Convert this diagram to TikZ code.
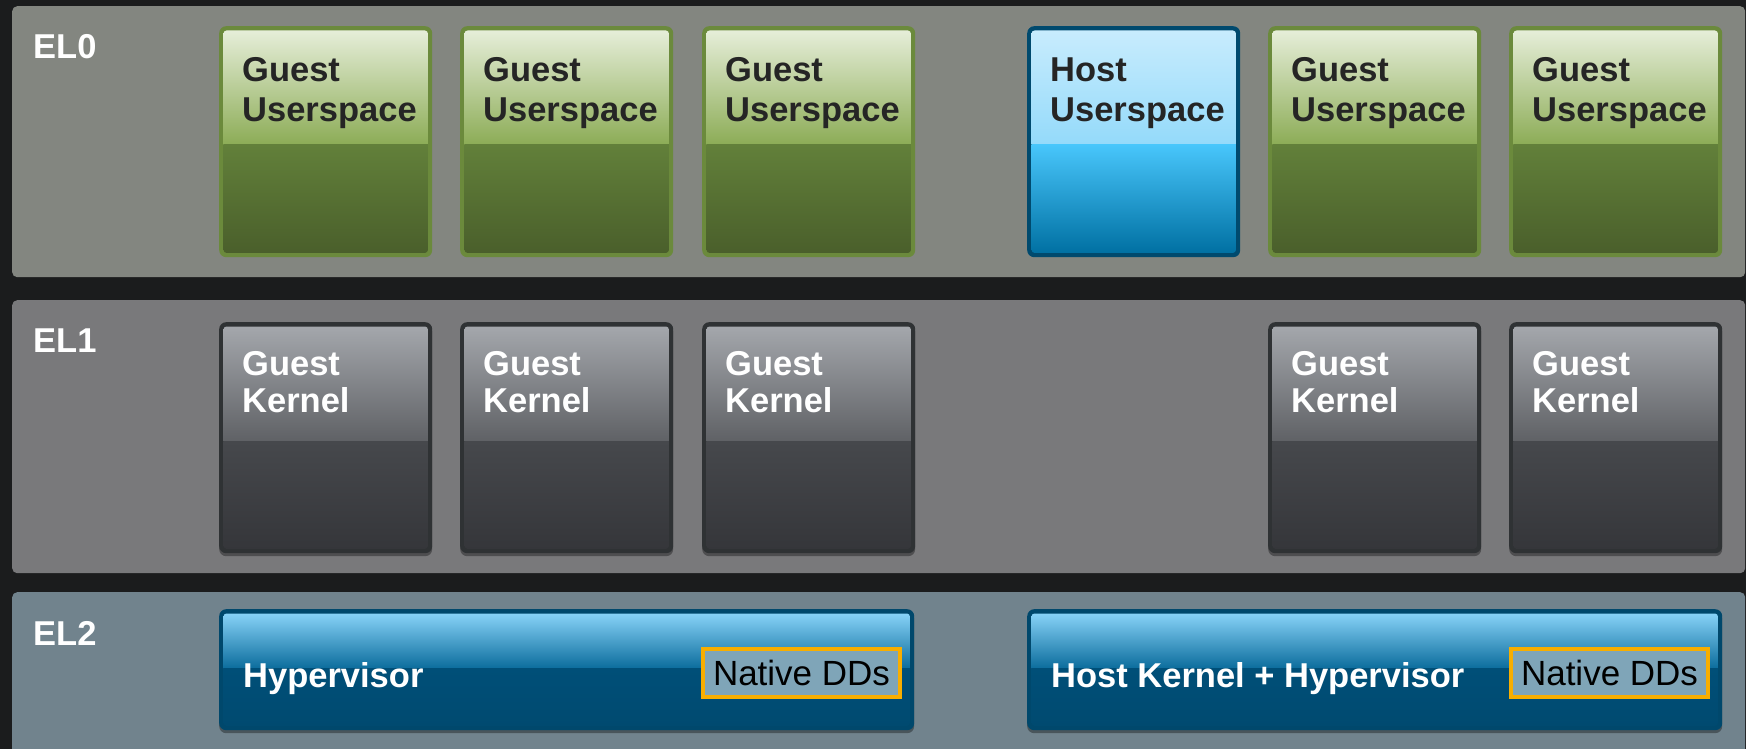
\documentclass[tikz,border=0pt]{standalone}
\usepackage{fontspec}
\setmainfont{Liberation Sans}
\usetikzlibrary{shadows}

% page and level panels
\definecolor{bgdark}{HTML}{1B1C1D}
\definecolor{elzero}{HTML}{838680}
\definecolor{elone}{HTML}{79797B}
\definecolor{eltwo}{HTML}{71838D}
% guest userspace (green)
\definecolor{guestedge}{HTML}{6B8A3C}
\definecolor{guestA}{HTML}{E6EED9}
\definecolor{guestB}{HTML}{BCD19A}
\definecolor{guestC}{HTML}{8CAC56}
\definecolor{guestD}{HTML}{62803A}
\definecolor{guestE}{HTML}{4A5F2B}
% host userspace (light blue)
\definecolor{hostedge}{HTML}{004A6E}
\definecolor{hostA}{HTML}{C8ECFD}
\definecolor{hostB}{HTML}{B0E3FB}
\definecolor{hostC}{HTML}{94DAFA}
\definecolor{hostD}{HTML}{48C6FB}
\definecolor{hostE}{HTML}{0070A2}
% guest kernel (grey)
\definecolor{kernedge}{HTML}{2F3234}
\definecolor{kernA}{HTML}{A4A7AC}
\definecolor{kernB}{HTML}{85878B}
\definecolor{kernC}{HTML}{5F6165}
\definecolor{kernD}{HTML}{46484C}
\definecolor{kernE}{HTML}{35363A}
% hypervisor (deep blue)
\definecolor{hvedge}{HTML}{00486C}
\definecolor{hvA}{HTML}{88D3F8}
\definecolor{hvB}{HTML}{3D9CCB}
\definecolor{hvC}{HTML}{0B6C9C}
\definecolor{hvD}{HTML}{004F78}
\definecolor{hvE}{HTML}{004A70}
% native device drivers
\definecolor{ddorange}{HTML}{F8AE00}
\definecolor{ddfill}{HTML}{7FA5B8}
\definecolor{darktext}{HTML}{252525}

% A glossy box: frame node plus two shaded halves inside it.
% #1 name, #2 left, #3 top, #4 width, #5 height, #6 look, #7 split below centre
\newcommand\glassbox[7]{%
  \node[#6 frame, minimum width=#4pt, minimum height=#5pt, anchor=north west] (#1) at (#2,#3) {};
  \begin{scope}
    \clip[rounded corners=3pt] ([xshift=4.5pt,yshift=-4.5pt]#1.north west)
      rectangle ([xshift=-4.5pt,yshift=4.5pt]#1.south east);
    \shade[#6 upper] ([xshift=4pt,yshift=-4pt]#1.north west) rectangle ([yshift=-#7pt]#1.east);
    \shade[#6 lower] ([yshift=-#7pt]#1.west) rectangle ([xshift=-4pt,yshift=4pt]#1.south east);
  \end{scope}
}

\begin{document}
\begin{tikzpicture}[x=1pt,y=-1pt,
  panel/.style={rounded corners=5pt, inner sep=0pt, anchor=north west},
  frameshadow/.style={drop shadow={shadow xshift=0pt, shadow yshift=-3pt, opacity=.35, fill=black}},
  guest frame/.style={fill=guestedge, rounded corners=7pt, inner sep=0pt},
  guest upper/.style={top color=guestA, middle color=guestB, bottom color=guestC},
  guest lower/.style={top color=guestD, bottom color=guestE},
  host frame/.style={fill=hostedge, rounded corners=7pt, inner sep=0pt},
  host upper/.style={top color=hostA, middle color=hostB, bottom color=hostC},
  host lower/.style={top color=hostD, bottom color=hostE},
  kern frame/.style={fill=kernedge, rounded corners=7pt, inner sep=0pt, frameshadow},
  kern upper/.style={top color=kernA, middle color=kernB, bottom color=kernC},
  kern lower/.style={top color=kernD, bottom color=kernE},
  hv frame/.style={fill=hvedge, rounded corners=7pt, inner sep=0pt, frameshadow},
  hv upper/.style={top color=hvA, middle color=hvB, bottom color=hvC},
  hv lower/.style={top color=hvD, bottom color=hvE},
  bigbold/.style={font=\bfseries\fontsize{34.5pt}{40pt}\selectfont},
  eltext/.style={bigbold, text=white, inner sep=0pt, anchor=base west},
  usertext/.style={bigbold, text=darktext, align=left, inner sep=0pt, anchor=north west},
  kerntext/.style={font=\bfseries\fontsize{34.5pt}{37pt}\selectfont, text=white, align=left, inner sep=0pt, anchor=north west},
  hvtext/.style={bigbold, text=white, inner sep=0pt, anchor=base west},
  ddbox/.style={draw=ddorange, line width=4pt, fill=ddfill, inner sep=0pt,
    minimum width=197pt, minimum height=48pt, text=black,
    font=\fontsize{35pt}{40pt}\selectfont},
]
\useasboundingbox (0,0) rectangle (1746,749);
\fill[bgdark] (0,0) rectangle (1746,749);

% exception level panels
\node[panel, fill=elzero, minimum width=1733pt, minimum height=271pt] (el0) at (12,6) {};
\node[panel, fill=elone,  minimum width=1733pt, minimum height=273pt] (el1) at (12,300) {};
\node[panel, fill=eltwo,  minimum width=1733pt, minimum height=178pt] (el2) at (12,592) {};

\node[eltext] (el0-label) at (33,59)  {EL0};
\node[eltext] (el1-label) at (33,352) {EL1};
\node[eltext] (el2-label) at (33,645) {EL2};

% EL0: userspaces
\glassbox{us1}{219}{26}{213}{231}{guest}{3}
\glassbox{us2}{460}{26}{213}{231}{guest}{3}
\glassbox{us3}{702}{26}{213}{231}{guest}{3}
\glassbox{us4}{1027}{26}{213}{231}{host}{3}
\glassbox{us5}{1268}{26}{213}{231}{guest}{3}
\glassbox{us6}{1509}{26}{213}{231}{guest}{3}

\foreach \b/\t in {us1/Guest, us2/Guest, us3/Guest, us4/Host, us5/Guest, us6/Guest}
  \node[usertext] (\b-label) at ([xshift=23pt,yshift=-31.5pt]\b.north west) {\t\\Userspace};

% EL1: guest kernels
\glassbox{gk1}{219}{322}{213}{231}{kern}{4}
\glassbox{gk2}{460}{322}{213}{231}{kern}{4}
\glassbox{gk3}{702}{322}{213}{231}{kern}{4}
\glassbox{gk5}{1268}{322}{213}{231}{kern}{4}
\glassbox{gk6}{1509}{322}{213}{231}{kern}{4}

\foreach \b in {gk1, gk2, gk3, gk5, gk6}
  \node[kerntext] (\b-label) at ([xshift=23pt,yshift=-29.5pt]\b.north west) {Guest\\Kernel};

% EL2: hypervisors
\glassbox{hv1}{219}{609}{695}{121}{hv}{-1}
\glassbox{hv2}{1027}{609}{695}{121}{hv}{-1}

\node[hvtext] (hv1-label) at (243,687)  {Hypervisor};
\node[hvtext] (hv2-label) at (1051,687) {Host Kernel + Hypervisor};

\node[ddbox] (dd1) at (801.5,673)  {Native DDs};
\node[ddbox] (dd2) at (1609.5,673) {Native DDs};
\end{tikzpicture}
\end{document}
